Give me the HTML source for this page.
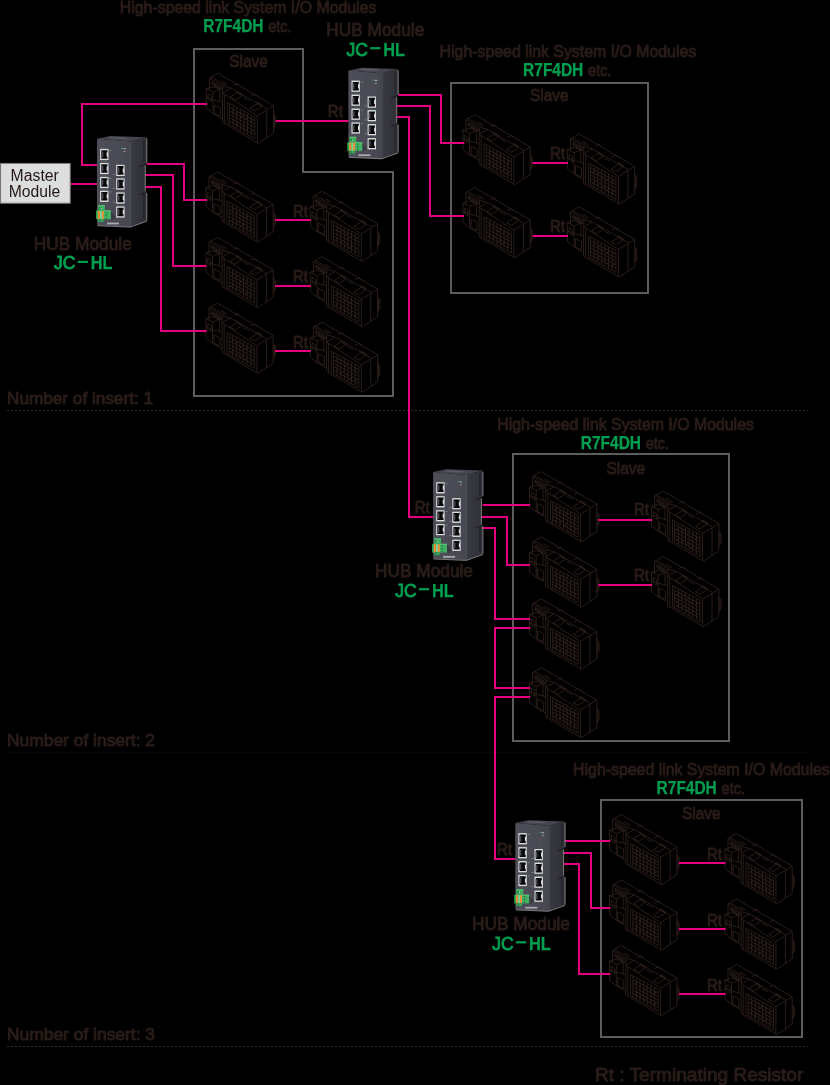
<!DOCTYPE html>
<html lang="en"><head><meta charset="utf-8"><title>JC-HL hub connection diagram</title>
<style>
html,body{margin:0;padding:0;background:#000;}
body{width:830px;height:1085px;overflow:hidden;font-family:"Liberation Sans", sans-serif;}
svg{display:block;}
text{font-family:"Liberation Sans", sans-serif;}
.ink{fill:#2a1d19;stroke:#2a1d19;stroke-width:1.0;stroke-linejoin:round;}
.grn{fill:#00a051;font-weight:bold;stroke:#00a051;stroke-width:0.25;}
.mag{fill:none;stroke:#e4007f;stroke-width:2;stroke-linejoin:miter;stroke-linecap:butt;}
.box{fill:none;stroke:#5d5d5d;stroke-width:2;}
.dot{fill:none;stroke:#3a2a25;stroke-width:1;stroke-dasharray:2 2;}
.sl{fill:none;stroke:#30221d;stroke-width:0.85;stroke-linejoin:round;}
</style></head><body>
<svg width="830" height="1085" viewBox="0 0 830 1085">
<rect x="0" y="0" width="830" height="1085" fill="#000"/>
<defs>
<filter id="ga" x="-5%" y="-5%" width="110%" height="110%"><feOffset dx="0" dy="0"/></filter>
<linearGradient id="hf" x1="0" y1="0" x2="1" y2="0"><stop offset="0" stop-color="#4e4f59"/><stop offset="1" stop-color="#464750"/></linearGradient>
<linearGradient id="hs" x1="0" y1="0" x2="1" y2="0"><stop offset="0" stop-color="#393a41"/><stop offset="1" stop-color="#2f3036"/></linearGradient>
<g id="port"><rect x="0" y="0" width="8.4" height="11.2" fill="#dcdddf"/><path d="M1.2,1.3 H7.3 V3.6 H6.5 V7.6 H7.3 V9.9 H1.2 Z" fill="#08080a"/><path d="M1.2,2.6 H2.9 V8.6 H1.2 Z" fill="#4a4b52"/><path d="M2.9,3.4 H3.7 V7.8 H2.9 Z" fill="#26272b"/><rect x="6.9" y="0.7" width="1.0" height="1.1" fill="#58b86c"/></g>
<g id="hub">
<path d="M33.2,5.6 L49.6,1.3 L49.6,27.4 L48.0,27.9 L48.0,56.0 L49.6,55.5 L49.6,84.9 L33.2,90.7 Z" fill="url(#hs)"/>
<path d="M0,2.7 L13.3,0 L49.6,1.3 L33.2,5.6 Z" fill="#44454d"/>
<path d="M13.5,0.9 L31,1.6 L28.6,3.1 L11.4,2.3 Z" fill="#5a5b63"/>
<path d="M0.6,2.7 L33.2,5.6 L33.2,90.7 L0,89.3 L0,3.3 Z" fill="url(#hf)"/>
<path d="M46.0,4.2 L47.6,3.8 L47.6,25.6 L46.0,26.1 Z" fill="#24252a"/>
<path d="M46.0,58.6 L47.6,58.1 L47.6,82.6 L46.0,83.2 Z" fill="#24252a"/>
<path d="M33.2,5.6 L34.1,5.4 L34.1,90.4 L33.2,90.7 Z" fill="#565760"/>
<path d="M42.6,29.7 L48.0,28.0 L48.0,29.4 L42.6,31.1 Z" fill="#1f2024"/>
<path d="M42.6,57.7 L48.0,56.0 L48.0,57.4 L42.6,59.1 Z" fill="#1f2024"/>
<path d="M49.8,2.5 V26.8 M48.3,29 V55.4 M49.8,57 V84.6 M0.6,89.7 L33.3,91.1 L49.8,85.2" stroke="#c9cacc" stroke-width="0.6" fill="none"/>
<use href="#port" x="3.1" y="12.9"/>
<use href="#port" x="3.1" y="26.9"/>
<use href="#port" x="3.1" y="40.9"/>
<use href="#port" x="3.1" y="54.7"/>
<use href="#port" x="19.2" y="28.8"/>
<use href="#port" x="19.2" y="42.4"/>
<use href="#port" x="19.2" y="56.4"/>
<use href="#port" x="19.2" y="70.4"/>
<rect x="24.6" y="12.0" width="1.4" height="1.0" fill="#45c46a"/>
<rect x="26.6" y="12.2" width="2.2" height="0.9" fill="#c9cacc"/>
<rect x="26.6" y="15.0" width="1.8" height="0.9" fill="#a9aaad"/>
<path d="M25.2,16 V27" stroke="#5e5f66" stroke-width="0.7" stroke-dasharray="1 1.6"/>
<rect x="12.6" y="14.0" width="1.8" height="0.8" fill="#8a8b90"/>
<rect x="12.6" y="41.8" width="1.8" height="0.8" fill="#8a8b90"/>
<rect x="12.6" y="55.4" width="1.8" height="0.8" fill="#8a8b90"/>
<rect x="16.2" y="38.0" width="2" height="0.8" fill="#8a8b90"/>
<rect x="16.2" y="51.8" width="2" height="0.8" fill="#8a8b90"/>
<rect x="16.2" y="65.8" width="2" height="0.8" fill="#8a8b90"/>
<rect x="16.2" y="79.4" width="2" height="0.8" fill="#8a8b90"/>
<path d="M13.9,75.2 L18.6,80.4 L16.5,83.6 L13.9,83.2 Z" fill="#3a3b42"/>
<rect x="1.1" y="69.1" width="6.8" height="5.8" fill="#3fab5d"/>
<rect x="1.1" y="69.1" width="6.8" height="1.2" fill="#56bf74"/>
<rect x="2.0" y="71.2" width="1.5" height="1.7" fill="#1e7d3c"/>
<rect x="3.9" y="72.0" width="0.8" height="0.9" fill="#d9efdf"/>
<rect x="-0.9" y="74.5" width="14.8" height="8.7" fill="#43b164"/>
<rect x="6.7" y="74.5" width="7.2" height="1.0" fill="#5cc57b"/>
<rect x="-0.9" y="74.9" width="1.5" height="8.0" fill="#1fa24a"/>
<rect x="0.7" y="75.0" width="2.2" height="7.9" fill="#f0913a"/>
<rect x="2.9" y="75.0" width="1.95" height="7.9" fill="#79d394"/>
<rect x="4.85" y="75.0" width="1.85" height="7.9" fill="#f0913a"/>
<rect x="8.4" y="75.9" width="1.5" height="1.3" fill="#1d7a3a"/>
<rect x="1.9" y="76.1" width="0.9" height="0.8" fill="#b9651c"/>
<rect x="8.4" y="78.7" width="1.5" height="1.3" fill="#1d7a3a"/>
<rect x="1.9" y="78.9" width="0.9" height="0.8" fill="#b9651c"/>
<rect x="8.4" y="81.4" width="1.5" height="1.3" fill="#1d7a3a"/>
<rect x="1.9" y="81.6" width="0.9" height="0.8" fill="#b9651c"/>
<rect x="1.0" y="83.2" width="5.8" height="2.6" fill="#36a556"/>
<rect x="2.0" y="83.6" width="1.4" height="1.4" fill="#1e7d3c"/>
<rect x="10.0" y="86.6" width="12.0" height="1.8" fill="#a9aaad"/>
</g>
<path id="slave" class="sl" d="M3.0,4.9 L11.6,-0.0 L67.2,32.5 L67.2,60.0 L51.8,70.2 L16.1,49.4 L16.1,17.8 M3.0,4.9 L3.0,15.3 M3.0,4.9 L16.4,12.7 L24.7,14.9 L60.8,35.8 M4.8,3.8 L18.6,11.8 M16.4,12.7 L16.4,17.8 M50.9,42.6 L67.2,32.5 M50.9,42.6 L50.9,69.6 M60.4,37.0 L60.4,64.7 M67.2,40.2 L69.4,43.3 L69.4,51.9 L67.2,55.5 M68.2,41.8 L68.2,53.7 M16.1,19.6 L50.9,42.6 M16.1,19.6 L24.7,14.9 M18.2,21.0 L18.2,50.6 M23.8,23.9 L30.6,19.6 L35.5,22.5 L28.8,26.8 Z M43.7,35.3 L50.9,30.4 L55.6,33.1 L48.4,37.8 Z M30.6,19.6 L30.6,18.1 L35.5,21.0 L35.5,22.5 M50.9,30.4 L50.9,29.0 L55.6,31.7 L55.6,33.1 M36.4,23.9 L42.8,27.5 M27.4,12.2 L31.0,10.4 L33.3,11.7 M44.6,23.0 L48.2,21.2 L51.8,23.4 M5.3,8.4 L15.2,14.1 L15.2,16.9 L5.3,11.1 Z M6.7,9.2 L6.0,11.4 M8.1,10.0 L7.4,12.3 M9.5,10.8 L8.8,13.1 M11.0,11.7 L10.2,13.9 M12.4,12.5 L11.6,14.8 M13.8,13.3 L13.1,15.6 M14.8,7.5 L20.2,10.5 L20.2,11.8 M-0.1,15.5 L6.6,13.6 L13.4,16.1 L13.4,28.4 L6.6,26.6 L6.6,18.9 L-0.1,15.5 M-0.1,15.5 L-0.1,34.7 L6.6,40.3 L16.1,45.8 M6.6,18.9 L13.4,16.1 M6.6,26.6 L6.6,40.3 M6.6,26.6 L-0.1,23.9 M1.7,20.5 L5.0,22.8 L5.0,28.6 L1.7,26.2 Z M8.0,31.8 L14.0,34.7 L14.0,43.1 L8.0,40.2 Z M13.4,28.4 L16.1,29.5 M3.0,15.3 L3.0,16.9 M20.9,29.1 L48.4,43.8 L48.4,65.6 L20.9,50.3 Z M23.1,30.4 L23.1,51.5 M26.7,32.5 L26.7,53.3 M30.3,34.4 L30.3,55.2 M33.9,36.4 L33.9,57.1 M37.5,38.3 L37.5,59.1 M41.1,40.2 L41.1,61.0 M44.8,42.1 L44.8,62.9 M23.1,33.9 L48.4,47.4 M23.1,37.5 L48.4,50.9 M23.1,41.0 L48.4,54.4 M23.1,44.5 L48.4,58.0 M23.1,48.0 L48.4,61.5 M24.7,39.3 L28.1,36.0 M24.7,49.9 L28.1,46.7 M29.4,41.8 L32.8,38.5 M29.4,52.4 L32.8,49.2 M34.1,44.3 L37.5,41.1 M34.1,55.0 L37.5,51.7 M38.8,46.8 L42.2,43.6 M38.8,57.5 L42.2,54.3 M43.5,49.4 L46.9,46.1 M43.5,60.0 L46.9,56.8"/>
</defs>
<path class="dot" d="M7,410.5 H808"/>
<path class="dot" d="M7,752.5 H808" style="stroke:#140e0c"/>
<path class="dot" d="M7,1046.5 H808"/>
<path class="box" d="M194,49 H303 V172 H393 V396 H194 Z"/>
<path class="box" d="M451,83 H648 V293 H451 Z"/>
<path class="box" d="M513,454 H729 V741 H513 Z"/>
<path class="box" d="M601,800 H802 V1037 H601 Z"/>
<use href="#slave" x="206.4" y="73.2"/>
<use href="#slave" x="206.0" y="171.9"/>
<use href="#slave" x="206.0" y="237.4"/>
<use href="#slave" x="206.0" y="303.1"/>
<use href="#slave" x="310.4" y="191.3"/>
<use href="#slave" x="310.4" y="256.7"/>
<use href="#slave" x="310.4" y="322.2"/>
<use href="#slave" x="463.0" y="114.5"/>
<use href="#slave" x="463.0" y="187.5"/>
<use href="#slave" x="567.5" y="133.9"/>
<use href="#slave" x="567.5" y="206.9"/>
<use href="#slave" x="529.6" y="471.6"/>
<use href="#slave" x="529.6" y="536.9"/>
<use href="#slave" x="529.6" y="599.0"/>
<use href="#slave" x="529.6" y="667.6"/>
<use href="#slave" x="651.6" y="491.0"/>
<use href="#slave" x="651.6" y="556.5"/>
<use href="#slave" x="609.7" y="814.6"/>
<use href="#slave" x="609.7" y="880.0"/>
<use href="#slave" x="609.7" y="945.6"/>
<use href="#slave" x="725.0" y="833.6"/>
<use href="#slave" x="725.0" y="899.0"/>
<use href="#slave" x="725.0" y="964.3"/>
<path class="mag" d="M97.2,165 H82 V104 H206.8 M70.2,184 H97.2 M146.6,164 H184 V200 H207 M145.4,175 H173 V266 H206.6 M145.4,187 H161 V331 H206.6 M275.6,121 H349 M275,220 H310.8 M275,286 H310.8 M275,351 H310.8 M398.2,95 H441 V143 H464.4 M396.8,106 H430 V216 H464 M396.8,117 H409 V517 H433.4 M532.5,163 H568 M532.5,236 H568 M482.6,505 H530.2 M481.4,517 H507 V565 H530.2 M481.4,528 H495 V619 H530.2 M530.2,628 H495 V688 H530.2 M530.2,697 H495 V859 H515.6 M598.2,520 H652.2 M598.2,585 H652.2 M565.1,841 H610.4 M563.9,853 H591 V908 H610.4 M563.9,864 H579 V974 H610.4 M678.8,863 H725.6 M678.8,929 H725.6 M678.8,994 H725.6"/>
<use href="#hub" x="97.0" y="136.0"/>
<use href="#hub" x="348.4" y="67.7"/>
<use href="#hub" x="433.1" y="469.3"/>
<use href="#hub" x="515.3" y="820.2"/>
<rect x="0.6" y="163.4" width="69.6" height="39.8" fill="#dcdddd" stroke="#7d7d7d" stroke-width="1"/>
<g filter="url(#ga)"><text fill="#231815" x="34.7" y="180.5" font-size="15.6" text-anchor="middle" textLength="48.2" lengthAdjust="spacingAndGlyphs">Master</text>
<text fill="#231815" x="34.5" y="196.6" font-size="15.6" text-anchor="middle" textLength="51.5" lengthAdjust="spacingAndGlyphs">Module</text></g>
<g opacity="0.995">
<text class="ink" x="119.8" y="12.7" font-size="17.2" textLength="256.6" lengthAdjust="spacingAndGlyphs">High-speed link System I/O Modules</text>
<text class="grn" x="203.3" y="31.6" font-size="17.6" textLength="60.2" lengthAdjust="spacingAndGlyphs">R7F4DH</text>
<text class="ink" x="268.3" y="31.6" font-size="17.0" textLength="23.3" lengthAdjust="spacingAndGlyphs">etc.</text>
<text class="ink" x="439.6" y="56.6" font-size="17.2" textLength="256.6" lengthAdjust="spacingAndGlyphs">High-speed link System I/O Modules</text>
<text class="grn" x="523.1" y="75.5" font-size="17.6" textLength="60.2" lengthAdjust="spacingAndGlyphs">R7F4DH</text>
<text class="ink" x="588.1" y="75.5" font-size="17.0" textLength="23.3" lengthAdjust="spacingAndGlyphs">etc.</text>
<text class="ink" x="497.3" y="430.0" font-size="17.2" textLength="256.6" lengthAdjust="spacingAndGlyphs">High-speed link System I/O Modules</text>
<text class="grn" x="580.8" y="448.9" font-size="17.6" textLength="60.2" lengthAdjust="spacingAndGlyphs">R7F4DH</text>
<text class="ink" x="645.8" y="448.9" font-size="17.0" textLength="23.3" lengthAdjust="spacingAndGlyphs">etc.</text>
<text class="ink" x="573.1" y="774.6" font-size="17.2" textLength="256.6" lengthAdjust="spacingAndGlyphs">High-speed link System I/O Modules</text>
<text class="grn" x="656.6" y="793.5" font-size="17.6" textLength="60.2" lengthAdjust="spacingAndGlyphs">R7F4DH</text>
<text class="ink" x="721.6" y="793.5" font-size="17.0" textLength="23.3" lengthAdjust="spacingAndGlyphs">etc.</text>
<text class="ink" x="229.3" y="67.0" font-size="16.2" textLength="38.5" lengthAdjust="spacingAndGlyphs">Slave</text>
<text class="ink" x="530.0" y="100.8" font-size="16.2" textLength="38.5" lengthAdjust="spacingAndGlyphs">Slave</text>
<text class="ink" x="606.5" y="473.6" font-size="16.2" textLength="38.5" lengthAdjust="spacingAndGlyphs">Slave</text>
<text class="ink" x="682.0" y="819.0" font-size="16.2" textLength="38.5" lengthAdjust="spacingAndGlyphs">Slave</text>
<text class="ink" x="33.8" y="249.7" font-size="17.5" textLength="98.0" lengthAdjust="spacingAndGlyphs">HUB Module</text>
<text fill="#00a051" stroke="#00a051" stroke-width="0.9" x="54.0" y="269.3" font-size="18.4" textLength="21.4" lengthAdjust="spacingAndGlyphs">JC</text>
<rect x="77.7" y="260.8" width="10.2" height="2.2" fill="#00a051"/>
<text class="grn" x="90.8" y="269.3" font-size="18.4" textLength="21.8" lengthAdjust="spacingAndGlyphs" stroke-width="0.9">HL</text>
<text class="ink" x="326.3" y="36.0" font-size="17.5" textLength="98.0" lengthAdjust="spacingAndGlyphs">HUB Module</text>
<text fill="#00a051" stroke="#00a051" stroke-width="0.9" x="346.5" y="55.6" font-size="18.4" textLength="21.4" lengthAdjust="spacingAndGlyphs">JC</text>
<rect x="370.2" y="47.1" width="10.2" height="2.2" fill="#00a051"/>
<text class="grn" x="383.3" y="55.6" font-size="18.4" textLength="21.8" lengthAdjust="spacingAndGlyphs" stroke-width="0.9">HL</text>
<text class="ink" x="375.0" y="577.0" font-size="17.5" textLength="98.0" lengthAdjust="spacingAndGlyphs">HUB Module</text>
<text fill="#00a051" stroke="#00a051" stroke-width="0.9" x="395.2" y="596.6" font-size="18.4" textLength="21.4" lengthAdjust="spacingAndGlyphs">JC</text>
<rect x="418.9" y="588.1" width="10.2" height="2.2" fill="#00a051"/>
<text class="grn" x="432.0" y="596.6" font-size="18.4" textLength="21.8" lengthAdjust="spacingAndGlyphs" stroke-width="0.9">HL</text>
<text class="ink" x="472.0" y="930.1" font-size="17.5" textLength="98.0" lengthAdjust="spacingAndGlyphs">HUB Module</text>
<text fill="#00a051" stroke="#00a051" stroke-width="0.9" x="492.2" y="949.7" font-size="18.4" textLength="21.4" lengthAdjust="spacingAndGlyphs">JC</text>
<rect x="515.9" y="941.2" width="10.2" height="2.2" fill="#00a051"/>
<text class="grn" x="529.0" y="949.7" font-size="18.4" textLength="21.8" lengthAdjust="spacingAndGlyphs" stroke-width="0.9">HL</text>
<text class="ink" x="327.8" y="116.8" font-size="16.2" textLength="15.0" lengthAdjust="spacingAndGlyphs">Rt</text>
<text class="ink" x="293.0" y="216.6" font-size="16.2" textLength="15.0" lengthAdjust="spacingAndGlyphs">Rt</text>
<text class="ink" x="293.0" y="282.3" font-size="16.2" textLength="15.0" lengthAdjust="spacingAndGlyphs">Rt</text>
<text class="ink" x="293.0" y="347.6" font-size="16.2" textLength="15.0" lengthAdjust="spacingAndGlyphs">Rt</text>
<text class="ink" x="550.0" y="159.0" font-size="16.2" textLength="15.0" lengthAdjust="spacingAndGlyphs">Rt</text>
<text class="ink" x="550.0" y="231.6" font-size="16.2" textLength="15.0" lengthAdjust="spacingAndGlyphs">Rt</text>
<text class="ink" x="414.7" y="512.7" font-size="16.2" textLength="15.0" lengthAdjust="spacingAndGlyphs">Rt</text>
<text class="ink" x="634.0" y="515.3" font-size="16.2" textLength="15.0" lengthAdjust="spacingAndGlyphs">Rt</text>
<text class="ink" x="634.0" y="580.5" font-size="16.2" textLength="15.0" lengthAdjust="spacingAndGlyphs">Rt</text>
<text class="ink" x="497.0" y="854.7" font-size="16.2" textLength="15.0" lengthAdjust="spacingAndGlyphs">Rt</text>
<text class="ink" x="707.0" y="859.8" font-size="16.2" textLength="15.0" lengthAdjust="spacingAndGlyphs">Rt</text>
<text class="ink" x="707.0" y="925.6" font-size="16.2" textLength="15.0" lengthAdjust="spacingAndGlyphs">Rt</text>
<text class="ink" x="707.0" y="991.0" font-size="16.2" textLength="15.0" lengthAdjust="spacingAndGlyphs">Rt</text>
<text class="ink" x="75.5" y="179.4" font-size="14.0" textLength="12.0" lengthAdjust="spacingAndGlyphs" opacity="0.12">Rt</text>
<text class="ink" x="7.0" y="404.3" font-size="17.0" textLength="146.0" lengthAdjust="spacingAndGlyphs">Number of insert: 1</text>
<text class="ink" x="7.0" y="745.6" font-size="17.0" textLength="148.0" lengthAdjust="spacingAndGlyphs">Number of insert: 2</text>
<text class="ink" x="7.0" y="1039.6" font-size="17.0" textLength="148.0" lengthAdjust="spacingAndGlyphs">Number of insert: 3</text>
<text class="ink" x="595.0" y="1081.0" font-size="18.6" textLength="208.3" lengthAdjust="spacingAndGlyphs">Rt : Terminating Resistor</text>
</g>
</svg>
</body></html>
